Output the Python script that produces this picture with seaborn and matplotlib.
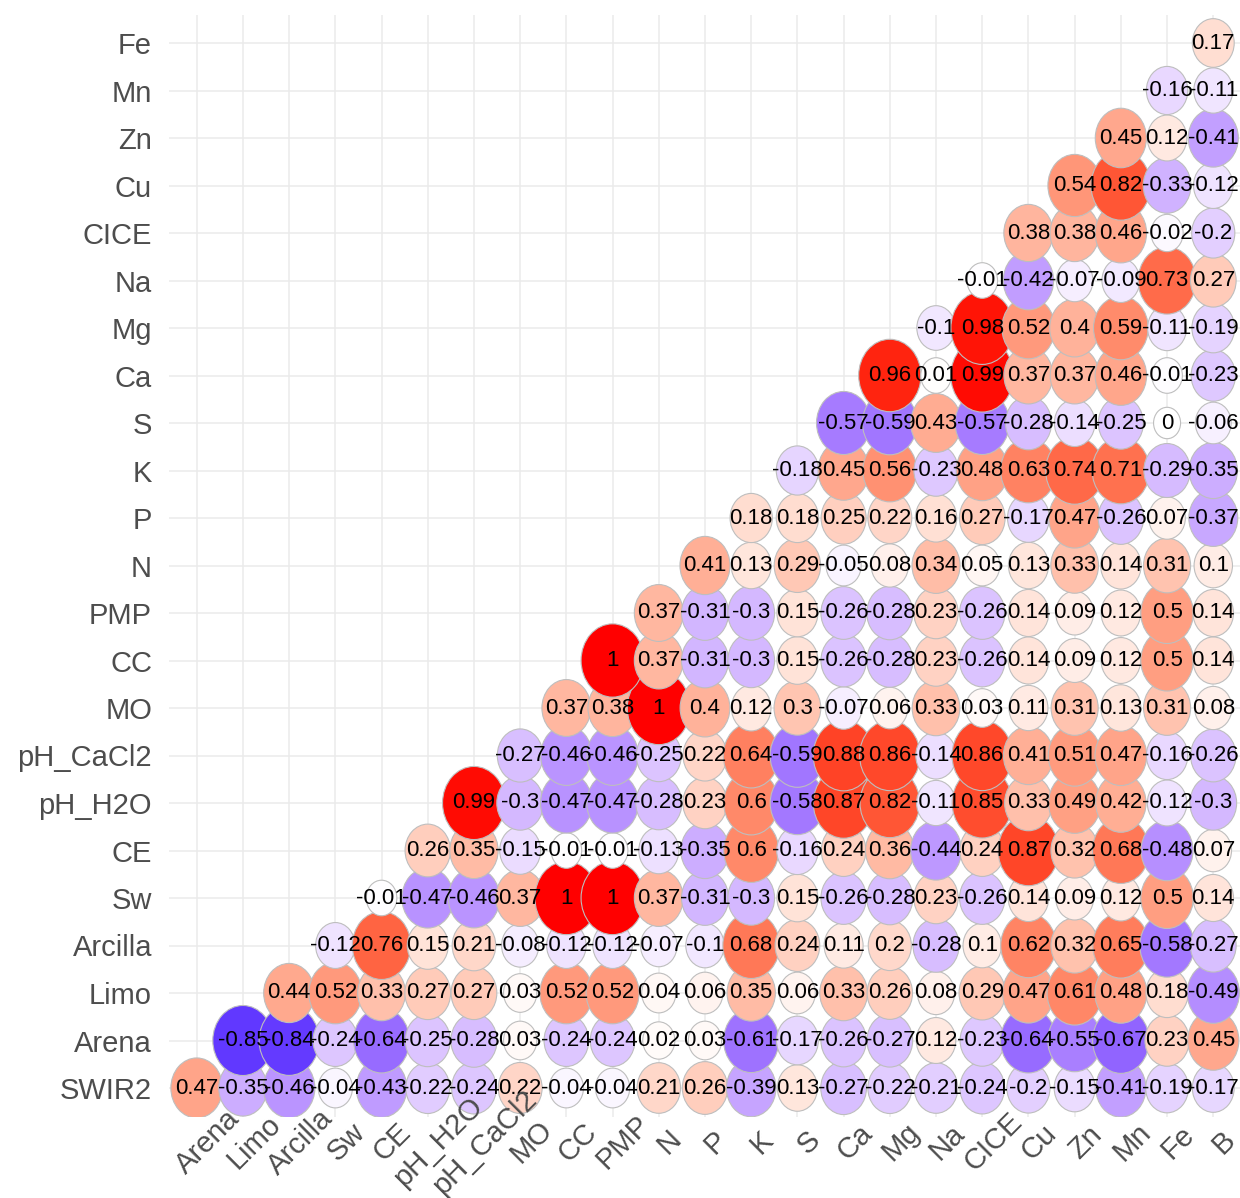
import numpy as np
import pandas as pd
import matplotlib
matplotlib.use('Agg')
import matplotlib.pyplot as plt
import seaborn as sns
from matplotlib.path import Path
from matplotlib.colors import ListedColormap, to_rgb
from matplotlib.transforms import ScaledTranslation

# variables (rows bottom -> top, columns left -> right)
row_vars = ['SWIR2', 'Arena', 'Limo', 'Arcilla', 'Sw', 'CE', 'pH_H2O', 'pH_CaCl2',
            'MO', 'CC', 'PMP', 'N', 'P', 'K', 'S', 'Ca', 'Mg', 'Na', 'CICE',
            'Cu', 'Zn', 'Mn', 'Fe']
col_vars = ['Arena', 'Limo', 'Arcilla', 'Sw', 'CE', 'pH_H2O', 'pH_CaCl2', 'MO',
            'CC', 'PMP', 'N', 'P', 'K', 'S', 'Ca', 'Mg', 'Na', 'CICE', 'Cu',
            'Zn', 'Mn', 'Fe', 'B']

# correlations, one list per row, starting at the diagonal column
r_SWIR2 = [0.47, -0.35, -0.46, -0.04, -0.43, -0.22, -0.24, 0.22, -0.04, -0.04, 0.21, 0.26,
           -0.39, 0.13, -0.27, -0.22, -0.21, -0.24, -0.2, -0.15, -0.41, -0.19, -0.17]
r_Arena = [-0.85, -0.84, -0.24, -0.64, -0.25, -0.28, 0.03, -0.24, -0.24, 0.02, 0.03,
           -0.61, -0.17, -0.26, -0.27, 0.12, -0.23, -0.64, -0.55, -0.67, 0.23, 0.45]
r_Limo = [0.44, 0.52, 0.33, 0.27, 0.27, 0.03, 0.52, 0.52, 0.04, 0.06, 0.35,
          0.06, 0.33, 0.26, 0.08, 0.29, 0.47, 0.61, 0.48, 0.18, -0.49]
r_Arcilla = [-0.12, 0.76, 0.15, 0.21, -0.08, -0.12, -0.12, -0.07, -0.1, 0.68,
             0.24, 0.11, 0.2, -0.28, 0.1, 0.62, 0.32, 0.65, -0.58, -0.27]
r_Sw = [-0.01, -0.47, -0.46, 0.37, 1, 1, 0.37, -0.31, -0.3, 0.15, -0.26, -0.28,
        0.23, -0.26, 0.14, 0.09, 0.12, 0.5, 0.14]
r_CE = [0.26, 0.35, -0.15, -0.01, -0.01, -0.13, -0.35, 0.6, -0.16, 0.24, 0.36,
        -0.44, 0.24, 0.87, 0.32, 0.68, -0.48, 0.07]
r_pH_H2O = [0.99, -0.3, -0.47, -0.47, -0.28, 0.23, 0.6, -0.58, 0.87, 0.82, -0.11,
            0.85, 0.33, 0.49, 0.42, -0.12, -0.3]
r_pH_CaCl2 = [-0.27, -0.46, -0.46, -0.25, 0.22, 0.64, -0.59, 0.88, 0.86, -0.14,
              0.86, 0.41, 0.51, 0.47, -0.16, -0.26]
r_MO = [0.37, 0.38, 1, 0.4, 0.12, 0.3, -0.07, 0.06, 0.33, 0.03, 0.11, 0.31, 0.13, 0.31, 0.08]
r_CC = [1, 0.37, -0.31, -0.3, 0.15, -0.26, -0.28, 0.23, -0.26, 0.14, 0.09, 0.12, 0.5, 0.14]
r_PMP = [0.37, -0.31, -0.3, 0.15, -0.26, -0.28, 0.23, -0.26, 0.14, 0.09, 0.12, 0.5, 0.14]
r_N = [0.41, 0.13, 0.29, -0.05, 0.08, 0.34, 0.05, 0.13, 0.33, 0.14, 0.31, 0.1]
r_P = [0.18, 0.18, 0.25, 0.22, 0.16, 0.27, -0.17, 0.47, -0.26, 0.07, -0.37]
r_K = [-0.18, 0.45, 0.56, -0.23, 0.48, 0.63, 0.74, 0.71, -0.29, -0.35]
r_S = [-0.57, -0.59, 0.43, -0.57, -0.28, -0.14, -0.25, 0, -0.06]
r_Ca = [0.96, 0.01, 0.99, 0.37, 0.37, 0.46, -0.01, -0.23]
r_Mg = [-0.1, 0.98, 0.52, 0.4, 0.59, -0.11, -0.19]
r_Na = [-0.01, -0.42, -0.07, -0.09, 0.73, 0.27]
r_CICE = [0.38, 0.38, 0.46, -0.02, -0.2]
r_Cu = [0.54, 0.82, -0.33, -0.12]
r_Zn = [0.45, 0.12, -0.41]
r_Mn = [-0.16, -0.11]
r_Fe = [0.17]

rows = [r_SWIR2, r_Arena, r_Limo, r_Arcilla, r_Sw, r_CE, r_pH_H2O, r_pH_CaCl2,
        r_MO, r_CC, r_PMP, r_N, r_P, r_K, r_S, r_Ca, r_Mg, r_Na, r_CICE,
        r_Cu, r_Zn, r_Mn, r_Fe]

recs = []
for i, vals in enumerate(rows):
    for j, v in enumerate(vals):
        recs.append((i + j, i, v))
df = pd.DataFrame(recs, columns=['xi', 'yi', 'value'])

# circle height grows with sqrt(|r|) (ggcorrplot style), in points
px2pt = 0.72
d_min, d_max = 31.4, 73.3   # px
df['area'] = ((d_min + (d_max - d_min) * np.sqrt(df['value'].abs())) * px2pt) ** 2
a0 = (d_min * px2pt) ** 2
a1 = (d_max * px2pt) ** 2


# blue - white - red gradient interpolated in Lab (like ggplot)
M = np.array([[0.4124564, 0.3575761, 0.1804375],
              [0.2126729, 0.7151522, 0.0721750],
              [0.0193339, 0.1191920, 0.9503041]])
WHITE = np.array([0.95047, 1.0, 1.08883])


def to_lab(c):
    c = np.array(to_rgb(c))
    lin = np.where(c <= 0.04045, c / 12.92, ((c + 0.055) / 1.055) ** 2.4)
    xyz = M @ lin / WHITE
    f = np.where(xyz > 216 / 24389, np.cbrt(xyz), (24389 / 27 * xyz + 16) / 116)
    return np.array([116 * f[1] - 16, 500 * (f[0] - f[1]), 200 * (f[1] - f[2])])


def from_lab(lab):
    fy = (lab[0] + 16) / 116
    f = np.array([fy + lab[1] / 500, fy, fy - lab[2] / 200])
    xyz = np.where(f ** 3 > 216 / 24389, f ** 3, (116 * f - 16) / (24389 / 27)) * WHITE
    lin = np.clip(np.linalg.inv(M) @ xyz, 0, 1)
    c = np.where(lin <= 0.0031308, 12.92 * lin, 1.055 * lin ** (1 / 2.4) - 0.055)
    return np.clip(c, 0, 1)


lab_b, lab_w, lab_r = to_lab('blue'), to_lab('white'), to_lab('red')
cols = []
for t in np.linspace(-1, 1, 257):
    end = lab_b if t < 0 else lab_r
    cols.append(from_lab(lab_w + abs(t) * (end - lab_w)))
cmap = ListedColormap(cols)

# circles squeezed a little horizontally, as in the original picture
circ = Path.unit_circle()
ellipse = Path(circ.vertices * [0.86, 1.0], circ.codes)

plt.rcParams['font.family'] = ['Liberation Sans', 'DejaVu Sans']
fig = plt.figure(figsize=(12.4, 11.98), dpi=100)
ax = fig.add_axes([169 / 1240, 81.5 / 1198, 1072 / 1240, 1102 / 1198])

# grid drawn by hand so the tick labels can sit on top of the circles
for k in range(len(col_vars)):
    ax.axvline(k, color='#EBEBEB', linewidth=1.1, zorder=0)
for k in range(len(row_vars)):
    ax.axhline(k, color='#EBEBEB', linewidth=1.1, zorder=0)

sns.scatterplot(data=df, x='xi', y='yi', hue='value', palette=cmap, hue_norm=(-1, 1),
                size='area', sizes=(a0, a1), size_norm=(a0, a1), marker=ellipse,
                edgecolor='#BEBEBE', linewidth=0.8, legend=False, ax=ax, zorder=3)

for _, r in df.iterrows():
    ax.text(r['xi'], r['yi'], f"{r['value']:g}", ha='center', va='center',
            fontsize=16, color='black', zorder=4)

ax.set_xlim(-0.6, len(col_vars) - 0.4)
ax.set_ylim(-0.6, len(row_vars) - 0.4)
ax.set_xticks(range(len(col_vars)))
ax.set_yticks(range(len(row_vars)))
ax.set_xticklabels(col_vars, rotation=45, ha='center', va='center',
                   rotation_mode='anchor')
ax.set_yticklabels(row_vars)
ax.tick_params(axis='both', length=0, labelsize=21, labelcolor='#4D4D4D')
ax.tick_params(axis='x', pad=18.4)
ax.tick_params(axis='y', pad=12.2)
for lab in ax.get_xticklabels():
    lab.set_transform(lab.get_transform() + ScaledTranslation(0.11, 0, fig.dpi_scale_trans))
ax.xaxis.set_zorder(6)
ax.set_xlabel('')
ax.set_ylabel('')
ax.set_facecolor('white')
ax.grid(False)
for s in ax.spines.values():
    s.set_visible(False)

fig.savefig('out.png', dpi=100)
